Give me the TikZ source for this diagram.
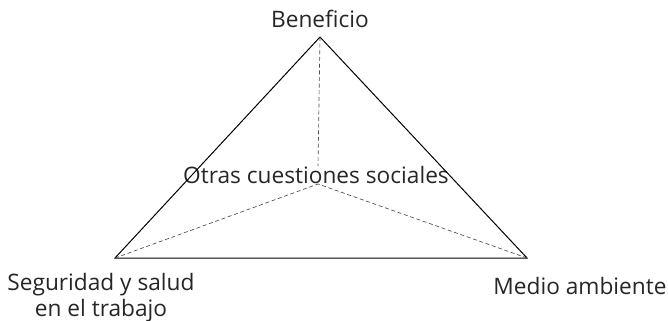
\documentclass[tikz,border=0pt]{standalone}
\usepackage{fontspec}
\setmainfont{Open Sans}
\usetikzlibrary{positioning}

\begin{document}
\begin{tikzpicture}
  [x=0.75pt,y=-0.75pt,
  label/.style={font=\fontsize{17}{19.5}\selectfont,text=black!85,inner sep=0pt,align=center},
  edge/.style={black,line width=0.75pt},
  hidden/.style={black!70,line width=0.5pt,dash pattern=on 3pt off 2pt}]
  \useasboundingbox (0,0) rectangle (668,321);

  \coordinate (top) at (320,37);
  \coordinate (lft) at (115,258);
  \coordinate (rgt) at (527,258);
  \coordinate (mid) at (318,184);
  \coordinate (midup) at (318,166);

  \node[label,anchor=base] (ben) at (320,28) {Beneficio};
  \node[label,anchor=base] (otr) at (316,183) {Otras cuestiones sociales};
  \node[label,anchor=base] (seg) at (101,316) {Seguridad y salud\\en el trabajo};
  \node[label,anchor=base] (med) at (580,294) {Medio ambiente};

  \draw [edge] (top) -- (lft) -- (rgt) -- cycle;

  \draw [hidden] (top) -- (midup);
  \draw [hidden] (lft) -- (mid);
  \draw [hidden] (rgt) -- (mid);

\end{tikzpicture}
\end{document}
